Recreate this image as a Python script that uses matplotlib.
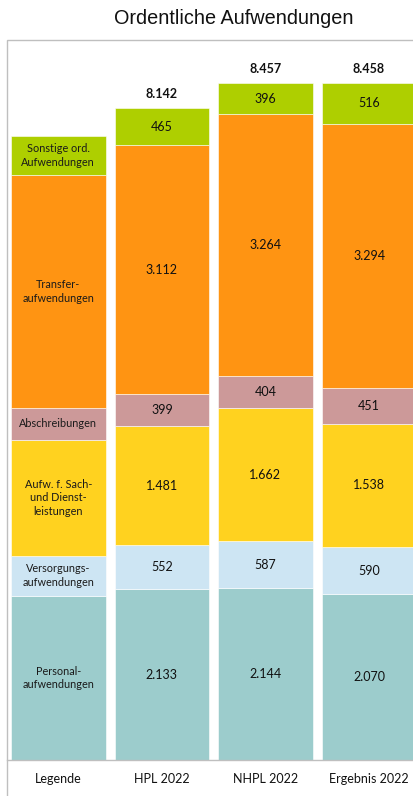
import numpy as np
import matplotlib
matplotlib.use("Agg")
import matplotlib.pyplot as plt
from matplotlib.patches import Rectangle

# categories (bottom to top in each stack)
segments = [
    "Personal-\naufwendungen",
    "Versorgungs-\naufwendungen",
    "Aufw. f. Sach-\nund Dienst-\nleistungen",
    "Abschreibungen",
    "Transfer-\naufwendungen",
    "Sonstige ord.\nAufwendungen",
]
colors = ["#9CCCCC", "#CDE5F3", "#FFD21F", "#CC9999", "#FF9412", "#AECF00"]

columns = ["Legende", "HPL 2022", "NHPL 2022", "Ergebnis 2022"]

# legend column: heights (no labels shown)
legend_vals = [2050, 500, 1450, 400, 2900, 490]
hpl_2022 = [2133, 552, 1481, 399, 3112, 465]
nhpl_2022 = [2144, 587, 1662, 404, 3264, 396]
ergebnis_2022 = [2070, 590, 1538, 451, 3294, 516]
totals = [8142, 8457, 8458]

W, H = 413, 796
fig = plt.figure(figsize=(W / 100, H / 100), dpi=100)
plt.rcParams["font.family"] = ["Lato", "DejaVu Sans"]

# plot area in pixels: left 7, bottom 760, top 40, runs past the right edge
ax = fig.add_axes([7 / W, 1 - 760 / H, 433 / W, 720 / H])
ax.set_facecolor("none")

px_per_unit = 652 / 8142
ax.set_ylim(0, 720 / px_per_unit)
spacing = 103.6
ax.set_xlim((7 - 58.25) / spacing, (440 - 58.25) / spacing)
width = 94.5 / spacing

x = np.arange(len(columns))
stacks = [legend_vals, hpl_2022, nhpl_2022, ergebnis_2022]


def fmt(v):
    return f"{v:,}".replace(",", ".")


for i, vals in enumerate(stacks):
    bottom = 0
    for j, v in enumerate(vals):
        ax.bar(x[i], v, width=width, bottom=bottom, color=colors[j],
               edgecolor="#FFFFFF", linewidth=0.4)
        mid = bottom + v / 2
        if i == 0:
            ax.text(x[i], mid, segments[j], ha="center", va="center",
                    fontsize=7.8, color="#1a1a1a", linespacing=1.3)
        else:
            ax.text(x[i], mid, fmt(v), ha="center", va="center",
                    fontsize=9, color="#111111")
        bottom += v
    if i > 0:
        ax.text(x[i], bottom + 14 / px_per_unit, fmt(totals[i - 1]),
                ha="center", va="center", fontsize=9, fontweight="bold",
                color="#111111")

for s in ["left", "right", "top"]:
    ax.spines[s].set_visible(False)
ax.spines["bottom"].set_color("#BFBFBF")
ax.spines["bottom"].set_linewidth(1)
ax.set_yticks([])
ax.set_xticks([])

for i, name in enumerate(columns):
    ax.text(x[i], -19 / 720, name, transform=ax.get_xaxis_transform(),
            ha="center", va="center", fontsize=9, color="#111111")

# outer chart frame, cut off on the right and bottom
fig.add_artist(Rectangle((7 / W, -0.1), 1.2, 1 - 40 / H + 0.1,
                         transform=fig.transFigure, fill=False,
                         edgecolor="#BFBFBF", linewidth=1, zorder=0))

fig.text(234 / W, 1 - 19 / H, "Ordentliche Aufwendungen", ha="center",
         va="center", fontsize=14.3, family="Liberation Sans", color="#111111")

fig.savefig("out.png", dpi=100)
